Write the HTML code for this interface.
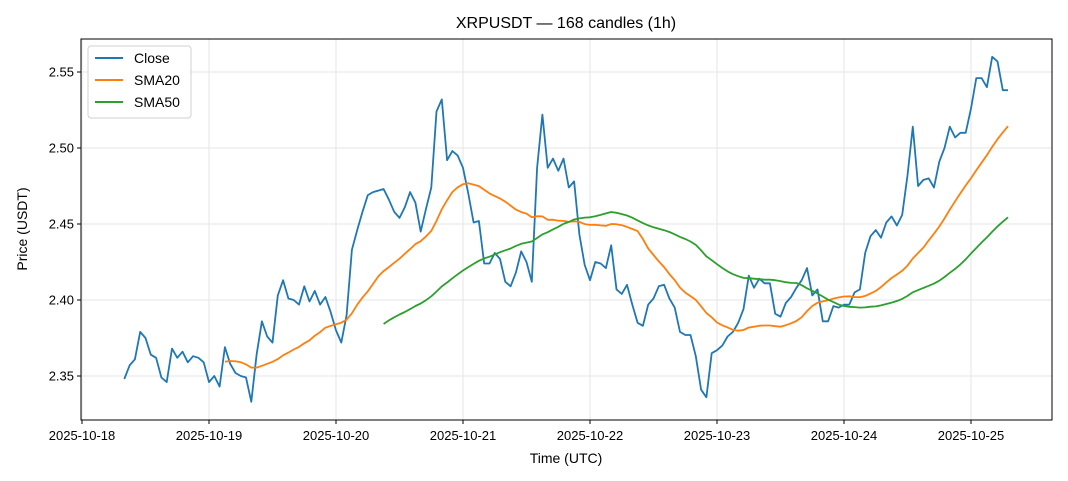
<!DOCTYPE html>
<html><head><meta charset="utf-8"><style>
body{margin:0;background:#fff;}
svg{display:block;font-family:"Liberation Sans","DejaVu Sans",sans-serif;}
</style></head><body>
<svg id="chart" width="1068" height="481" viewBox="0 0 1068 481"></svg>
<script>
const closeValues=[2.348,2.357,2.361,2.379,2.375,2.364,2.362,2.349,2.346,2.368,2.362,2.366,2.359,2.363,2.362,2.359,2.346,2.350,2.343,2.369,2.358,2.352,2.350,2.349,
2.333,2.364,2.386,2.376,2.372,2.403,2.413,2.401,2.400,2.397,2.409,2.399,2.406,2.397,2.402,2.392,2.380,2.372,2.390,2.433,2.446,2.458,2.469,2.471,2.472,2.473,
2.466,2.458,2.454,2.461,2.471,2.464,2.445,2.460,2.474,2.524,2.532,2.492,2.498,2.495,2.487,2.470,2.451,2.452,2.424,2.424,2.431,2.427,2.412,2.409,2.418,2.432,2.425,2.412,2.487,2.522,
2.487,2.493,2.485,2.493,2.474,2.478,2.443,2.423,2.413,2.425,2.424,2.421,2.436,2.407,2.404,2.410,2.397,2.385,2.383,2.397,2.401,2.409,2.410,2.401,2.395,2.379,2.377,2.377,2.363,2.341,
2.336,2.365,2.367,2.370,2.376,2.379,2.385,2.394,2.416,2.408,2.414,2.411,2.411,2.391,2.389,2.398,2.402,2.408,2.413,2.421,2.403,2.407,2.386,2.386,2.396,2.395,2.397,2.397,2.405,2.407,
2.431,2.442,2.446,2.441,2.451,2.455,2.449,2.456,2.482,2.514,2.475,2.479,2.480,2.474,2.491,2.500,2.514,2.507,2.510,2.510,2.526,2.546,2.546,2.540,2.560,2.557,2.538,2.538];
const startHour=8; // 2025-10-18 08:00 UTC
const yTicks=[2.35,2.40,2.45,2.50,2.55];
const xTickLabels=["2025-10-18","2025-10-19","2025-10-20","2025-10-21","2025-10-22","2025-10-23","2025-10-24","2025-10-25"];

const L=81,R=1052,T=39,B=420;
const xDay=d=>82+d*127;
const xIdx=i=>xDay((startHour+i)/24);
const yv=v=>376-(v-2.35)*1520;
const NS="http://www.w3.org/2000/svg";
const svg=document.getElementById('chart');
function mk(t,a){const e=document.createElementNS(NS,t);for(const k in a)e.setAttribute(k,a[k]);svg.appendChild(e);return e;}

mk('rect',{x:L,y:T,width:R-L,height:B-T,fill:'#fff'});
xTickLabels.forEach((lab,d)=>{const x=xDay(d);
 const g=mk('line',{x1:x,x2:x,y1:T,y2:B,stroke:'#e6e6e6','stroke-width':1});
 
 mk('line',{x1:x,x2:x,y1:B,y2:B+4,stroke:'#000'});
 const t=mk('text',{x:x,y:B+20,'text-anchor':'middle','font-size':13,fill:'#000'});t.textContent=lab;
 
});
yTicks.forEach(v=>{const y=yv(v);
 const g=mk('line',{x1:L,x2:R,y1:y,y2:y,stroke:'#e6e6e6','stroke-width':1});
 
 mk('line',{x1:L-4,x2:L,y1:y,y2:y,stroke:'#000'});
 const t=mk('text',{x:L-7,y:y+4.5,'text-anchor':'end','font-size':13,fill:'#000'});t.textContent=v.toFixed(2);
 
});
function sma(n){const o=[];for(let i=n-1;i<closeValues.length;i++){let s=0;for(let j=i-n+1;j<=i;j++)s+=closeValues[j];o.push([i,s/n]);}return o;}
function line(pts,c,name){const p=mk('polyline',{points:pts.map(([i,v])=>xIdx(i).toFixed(1)+','+yv(v).toFixed(1)).join(' '),fill:'none',stroke:c,'stroke-width':1.8,'stroke-linejoin':'round'});
 }
line(closeValues.map((v,i)=>[i,v]),'#1f77b4','close-line');
line(sma(20),'#ff7f0e','sma20-line');
line(sma(50),'#2ca02c','sma50-line');
mk('rect',{x:L,y:T,width:R-L,height:B-T,fill:'none',stroke:'#000','stroke-width':1});
</script>
<text></text>
<script>
const s=document.getElementById('chart');
s.insertAdjacentHTML('beforeend',`
<text x="566" y="28" text-anchor="middle" font-size="16">XRPUSDT — 168 candles (1h)</text>
<text x="566" y="463" text-anchor="middle" font-size="14">Time (UTC)</text>
<text x="0" y="0" transform="translate(27,229) rotate(-90)" text-anchor="middle" font-size="14">Price (USDT)</text>
<g>
<rect x="88" y="46" width="103" height="72" rx="3" fill="#fff" stroke="#ccc" opacity="0.9"/>
<g><line x1="95" x2="123" y1="58" y2="58" stroke="#1f77b4" stroke-width="2"/><text x="134" y="63" font-size="14">Close</text></g>
<g><line x1="95" x2="123" y1="80" y2="80" stroke="#ff7f0e" stroke-width="2"/><text x="134" y="85" font-size="14">SMA20</text></g>
<g><line x1="95" x2="123" y1="102" y2="102" stroke="#2ca02c" stroke-width="2"/><text x="134" y="107" font-size="14">SMA50</text></g>
</g>`);
</script>
</body></html>
